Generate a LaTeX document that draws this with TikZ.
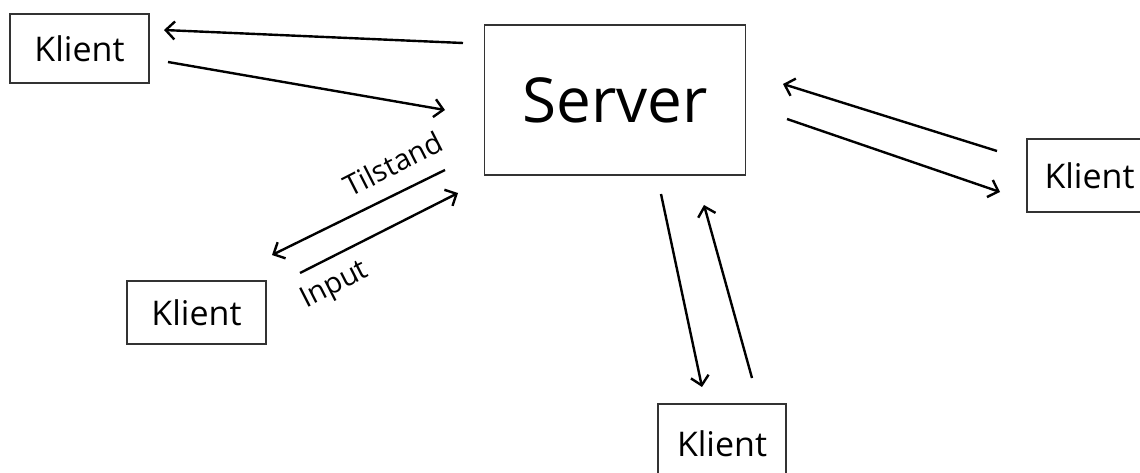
\documentclass[tikz,border=0pt]{standalone}
\usepackage{fontspec}
\setmainfont{Open Sans}
\usetikzlibrary{arrows.meta}
\begin{document}
\begin{tikzpicture}[x=1pt,y=-1pt,
  box/.style={draw=black!80,line width=1.6pt,inner sep=0pt,font=\fontsize{34}{40}\selectfont},
  arr/.style={line width=2.4pt,-{Straight Barb[length=9pt,width=18pt,line width=2.4pt]}},
  lbl/.style={font=\fontsize{29}{34}\selectfont,inner sep=0pt}]
\useasboundingbox[fill=white] (0,0) rectangle (1140,473);
\node[box,minimum width=139pt,minimum height=69pt] (k1) at (79.5,48.5) {Klient};
\node[box,minimum width=261pt,minimum height=150pt,font=\fontsize{62}{70}\selectfont] (srv) at (615,100) {Server};
\node[box,minimum width=139pt,minimum height=63pt] (k2) at (196.5,312.5) {Klient};
\node[box,minimum width=125pt,minimum height=73pt] (k3) at (1089.5,175.5) {Klient};
\node[box,minimum width=128pt,minimum height=80pt] (k4) at (722,444) {Klient};
% connector ends
\coordinate (a1s) at (463,43);  \coordinate (a1e) at (164,30);
\coordinate (a2s) at (168,62);  \coordinate (a2e) at (445,110);
\coordinate (a3s) at (445,170); \coordinate (a3e) at (272,255);
\coordinate (a4s) at (300,273); \coordinate (a4e) at (458,193);
\coordinate (a5s) at (997,151); \coordinate (a5e) at (783,84);
\coordinate (a6s) at (787,119); \coordinate (a6e) at (1000,192);
\coordinate (a7s) at (661,194); \coordinate (a7e) at (702,387);
\coordinate (a8s) at (752,378); \coordinate (a8e) at (704,205);
\draw[arr] (a1s) -- (a1e);
\draw[arr] (a2s) -- (a2e);
\draw[arr] (a3s) -- (a3e);
\draw[arr] (a4s) -- (a4e);
\draw[arr] (a5s) -- (a5e);
\draw[arr] (a6s) -- (a6e);
\draw[arr] (a7s) -- (a7e);
\draw[arr] (a8s) -- (a8e);
\node[lbl,rotate=27] (tl) at (393,164) {Tilstand};
\node[lbl,rotate=27] (il) at (335,286) {Input};
\end{tikzpicture}
\end{document}
